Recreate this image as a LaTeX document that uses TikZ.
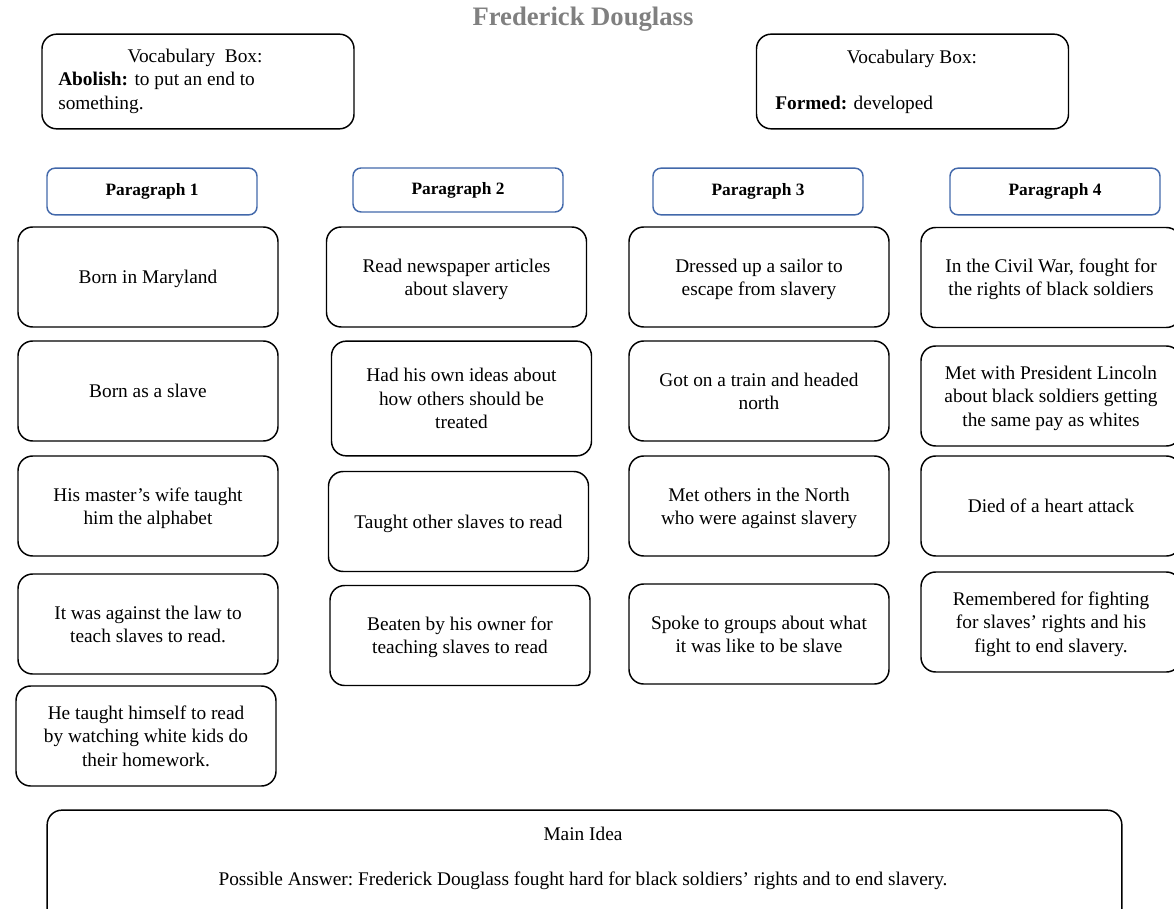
\documentclass[tikz,border=0pt]{standalone}
\usepackage{fontspec}
\setmainfont{Liberation Serif}
\definecolor{headblue}{RGB}{66,104,170}
\definecolor{titlegray}{RGB}{128,128,128}
\tikzset{
	card/.style={draw, line width=1.1pt, rounded corners=11pt, align=center, minimum width=195pt, minimum height=75pt, inner sep=2pt, text depth=0pt, font=\fontsize{14.5}{17.5}\selectfont},
	parhead/.style={draw=headblue, line width=1.1pt, rounded corners=6pt, minimum width=157.5pt, minimum height=35pt, font=\bfseries\fontsize{13}{15}\selectfont},
	vocab/.style={draw, line width=1.1pt, rounded corners=11pt, minimum width=234pt, minimum height=71pt},
	txt/.style={inner sep=0pt, align=left, font=\fontsize{14.5}{17.5}\selectfont},
}

\begin{document}
\begin{tikzpicture}[x=0.75pt, y=-0.75pt]
		\useasboundingbox (0,0) rectangle (1174,909);
		
		\node[font=\bfseries\fontsize{20}{22}\selectfont, text=titlegray] (title) at (583,19) {Frederick Douglass};
		
		% vocabulary boxes
		\node[vocab] (voc1) at (198,81.5) {};
		\node[txt] (voc1t) at (195,58) {Vocabulary\ \ Box:};
		\node[txt, anchor=north west] (voc1w) at (58,72) {\textbf{Abolish:} to put an\ end to\\something.};
		\node[txt] (voc2t) at (912,58.5) {Vocabulary Box:};
		\node[vocab] (voc2) at (912.5,81.5) {};
		\node[txt, anchor=west] (voc2w) at (775,105) {\textbf{Formed:} developed};
		
		% paragraph headers
		\node[parhead] (p1) at (152,191.5) {Paragraph 1};
		\node[parhead, minimum height=33pt] (p2) at (458,190) {Paragraph 2};
		\node[parhead] (p3) at (758,191.5) {Paragraph 3};
		\node[parhead] (p4) at (1055,191.5) {Paragraph 4};
		
		% column 1
		\node[card] (b11) at (148,277) {Born in Maryland};
		\node[card] (b12) at (148,391) {Born as a slave};
		\node[card] (b13) at (148,506) {His master's\ wife taught\\him the alphabet};
		\node[card] (b14) at (148,624) {It was against the law to\\teach slaves to read.};
		\node[card] (b15) at (146,736) {He taught himself to read\\by watching white kids do\\their homework.};
		
		% column 2
		\node[card] (b21) at (456.5,277) {Read newspaper\ articles\\about slavery};
		\node[card, minimum height=86pt] (b22) at (461.5,398.5) {Had his own ideas about\\how others should be\\treated};
		\node[card] (b23) at (458.5,521.5) {Taught other slaves to read};
		\node[card] (b24) at (460,635.5) {Beaten by his owner for\\teaching\ slaves to read};
		
		% column 3
		\node[card] (b31) at (759,277) {Dressed\ up a sailor to\\escape\ from slavery};
		\node[card] (b32) at (759,391) {Got on a train and headed\\north};
		\node[card] (b33) at (759,506) {Met others\ in the North\\who were against slavery};
		\node[card] (b34) at (759,634) {Spoke to groups about what\\it was like to be slave};
		
		% column 4
		\node[card] (b41) at (1051,277.5) {In the Civil War,\ fought for\\the rights of black soldiers};
		\node[card] (b42) at (1051,396) {Met with President Lincoln\\about black soldiers getting\\the same pay as whites};
		\node[card] (b43) at (1051,506) {Died of a heart attack};
		\node[card] (b44) at (1051,622) {Remembered\ for fighting\\for slaves' rights and his\\fight to end slavery.};
		
		% main idea
		\node[draw, line width=1.1pt, rounded corners=11pt, minimum width=806pt, minimum height=86pt] (main) at (584.5,867.5) {};
		\node[txt] (mainh) at (583,834) {Main Idea};
		\node[txt] (maina) at (583,881) {Possible Answer:\ Frederick\ Douglass\ fought hard for black soldiers' rights and to end slavery.};
	\end{tikzpicture}
\end{document}
